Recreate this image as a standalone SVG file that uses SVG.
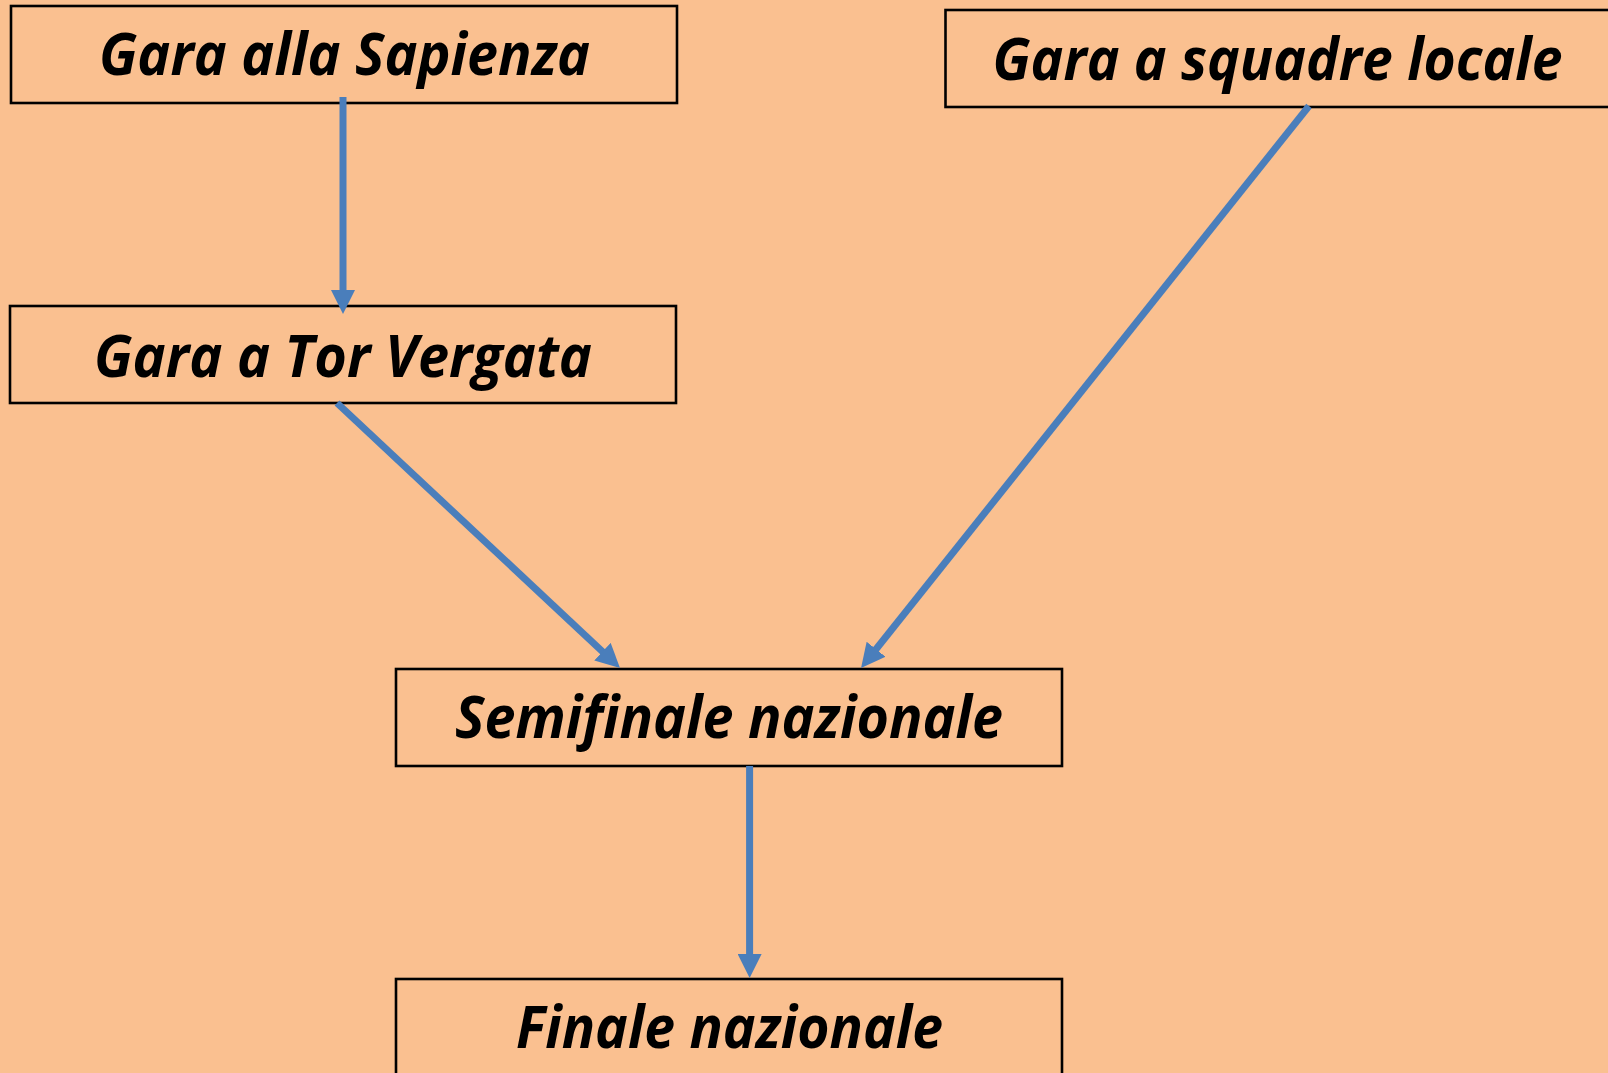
<svg xmlns="http://www.w3.org/2000/svg" width="1608" height="1073" viewBox="0 0 1608 1073">
  <style>
    .box { fill: #FAC090; stroke: #000000; stroke-width: 2.6; }
    .lbl { font-family: "Open Sans", "Noto Sans", "Liberation Sans", sans-serif; font-weight: bold; font-style: italic; font-size: 59px; fill: #000000; }
    .conn { stroke: #4A7EBB; stroke-width: 7; fill: none; marker-end: url(#arrow); }
  </style>
  <defs>
    <marker id="arrow" markerUnits="userSpaceOnUse" viewBox="0 -12 24 24" refX="1" refY="0" markerWidth="24" markerHeight="24" orient="auto">
      <path d="M0,-12 L24,0 L0,12 z" fill="#4A7EBB"/>
    </marker>
  </defs>
  <rect x="0" y="0" width="1608" height="1073" fill="#FAC090"/>

  <g id="node-sapienza">
    <rect class="box" x="11" y="6" width="666" height="97"/>
    <text class="lbl" x="99" y="75" textLength="491" lengthAdjust="spacingAndGlyphs">Gara alla Sapienza</text>
  </g>
  <g id="node-torvergata">
    <rect class="box" x="10" y="306" width="666" height="97"/>
    <text class="lbl" x="94" y="377" textLength="498" lengthAdjust="spacingAndGlyphs">Gara a Tor Vergata</text>
  </g>
  <g id="node-squadre">
    <rect class="box" x="945.5" y="10" width="666" height="97"/>
    <text class="lbl" x="992.5" y="79.5" textLength="570" lengthAdjust="spacingAndGlyphs">Gara a squadre locale</text>
  </g>
  <g id="node-semifinale">
    <rect class="box" x="396" y="669" width="666" height="97"/>
    <text class="lbl" x="455" y="738" textLength="548" lengthAdjust="spacingAndGlyphs">Semifinale nazionale</text>
  </g>
  <g id="node-finale">
    <rect class="box" x="396" y="979" width="666" height="97"/>
    <text class="lbl" x="516" y="1048" textLength="427" lengthAdjust="spacingAndGlyphs">Finale nazionale</text>
  </g>

  <g id="connectors">
    <line class="conn" x1="343" y1="97" x2="343" y2="291"/>
    <line class="conn" x1="337" y1="403" x2="603.2" y2="652.3"/>
    <line class="conn" x1="1309" y1="106" x2="875.4" y2="650"/>
    <line class="conn" x1="749.6" y1="766" x2="749.6" y2="955"/>
  </g>
</svg>
